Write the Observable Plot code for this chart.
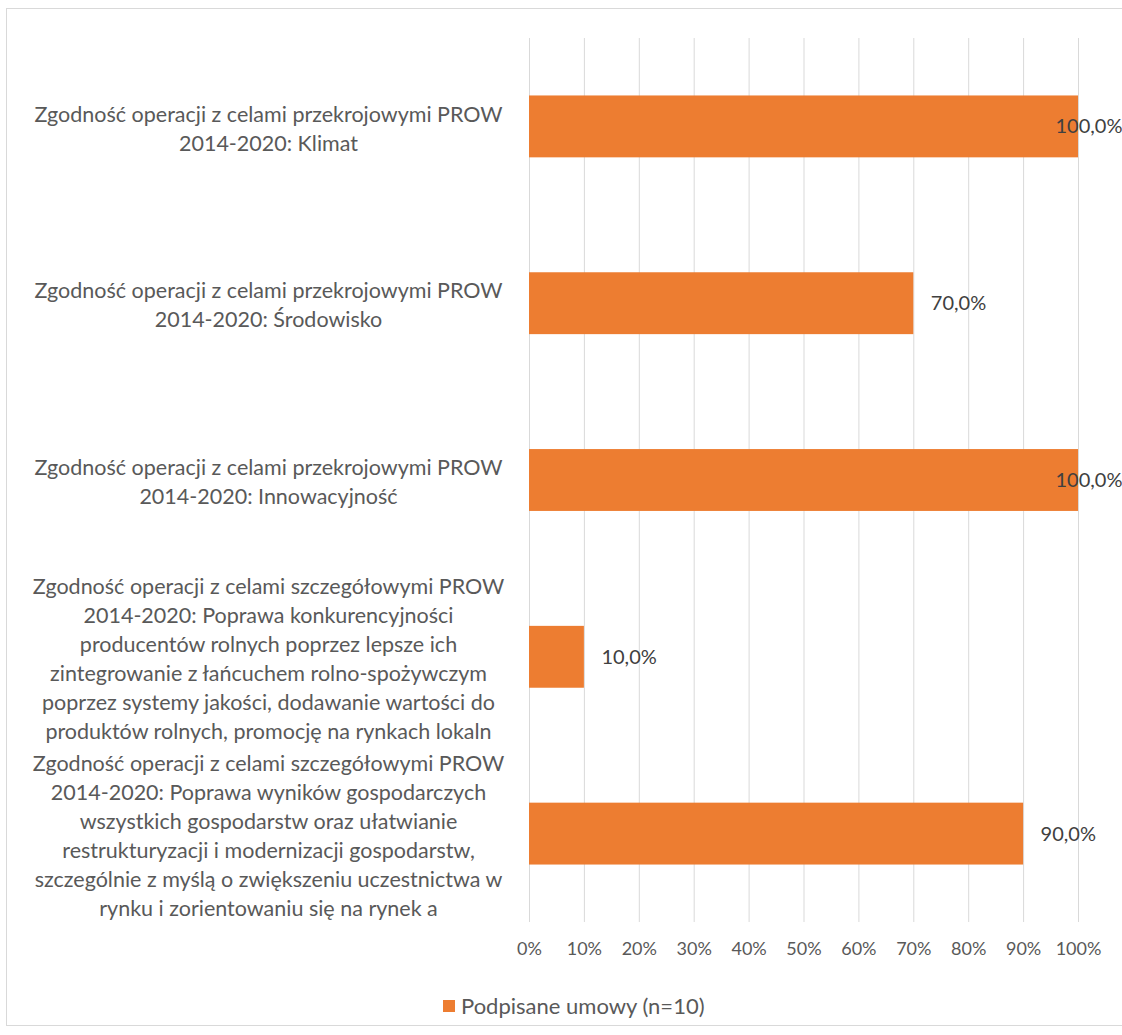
<!DOCTYPE html>
<html>
<head>
<meta charset="utf-8">
<script src="https://cdn.jsdelivr.net/npm/d3@7"></script>
<script src="https://cdn.jsdelivr.net/npm/@observablehq/plot@0.6"></script>
<style>
  html, body { margin: 0; padding: 0; background: #fff; }
  body { width: 1122px; height: 1035px; position: relative; overflow: hidden; font-family: Lato, "Open Sans", sans-serif; }
  #frame { position: absolute; left: 6px; top: 8px; width: 1140px; height: 1018px; border: 1px solid #d9d9d9; box-sizing: border-box; }
  #chart { position: absolute; left: 0; top: 0; }
  #legend { position: absolute; left: 443px; top: 992px; display: flex; align-items: center; font-size: 22px; color: #595959; }
  #legend .sw { width: 12px; height: 12px; background: #ED7D31; margin-right: 6px; }
</style>
</head>
<body>
<div id="frame"></div>
<div id="chart"></div>
<div id="legend"><span class="sw"></span><span>Podpisane umowy (n=10)</span></div>
<script>
const categories = [
  "Zgodność operacji z celami przekrojowymi PROW\n2014-2020: Klimat",
  "Zgodność operacji z celami przekrojowymi PROW\n2014-2020: Środowisko",
  "Zgodność operacji z celami przekrojowymi PROW\n2014-2020: Innowacyjność",
  "Zgodność operacji z celami szczegółowymi PROW\n2014-2020: Poprawa konkurencyjności\nproducentów rolnych poprzez lepsze ich\nzintegrowanie z łańcuchem rolno-spożywczym\npoprzez systemy jakości, dodawanie wartości do\nproduktów rolnych, promocję na rynkach lokaln",
  "Zgodność operacji z celami szczegółowymi PROW\n2014-2020: Poprawa wyników gospodarczych\nwszystkich gospodarstw oraz ułatwianie\nrestrukturyzacji i modernizacji gospodarstw,\nszczególnie z myślą o zwiększeniu uczestnictwa w\nrynku i zorientowaniu się na rynek a"
];
const values = [1.0, 0.7, 1.0, 0.1, 0.9];
const xTicks = [0, 0.1, 0.2, 0.3, 0.4, 0.5, 0.6, 0.7, 0.8, 0.9, 1.0];
const seriesName = "Podpisane umowy (n=10)";

const data = categories.map((c, i) => ({category: c, value: values[i]}));
const fmtLabel = v => (v * 100).toFixed(1).replace(".", ",") + "%";

const chart = Plot.plot({
  width: 1122,
  height: 975,
  marginLeft: 529,
  marginRight: 44,
  marginTop: 38,
  marginBottom: 53,
  style: {fontFamily: "Lato, 'Open Sans', sans-serif", background: "transparent"},
  x: {domain: [0, 1], ticks: xTicks},
  y: {domain: categories, paddingInner: 0.65, paddingOuter: 0.325, round: false},
  marks: [
    Plot.gridX(xTicks, {stroke: "#d9d9d9", strokeOpacity: 1, strokeWidth: 1}),
    Plot.barX(data, {x: "value", y: "category", fill: "#ED7D31"}),
    Plot.text(data.filter(d => d.value < 1), {x: "value", y: "category", text: d => fmtLabel(d.value), textAnchor: "start", dx: 17, fontSize: 20, fill: "#404040"}),
    Plot.text(data.filter(d => d.value >= 1), {x: "value", y: "category", text: d => fmtLabel(d.value), textAnchor: "start", dx: -23, fontSize: 20, fill: "#404040"}),
    Plot.axisX(xTicks, {tickSize: 0, tickPadding: 20, tickFormat: d => Math.round(d * 100) + "%", fontSize: 18, fill: "#595959", label: null}),
    Plot.axisY({tickSize: 0, tickPadding: 261, textAnchor: "middle", fontSize: 21.5, lineHeight: 1.35, fill: "#595959", label: null, lineWidth: 100})
  ]
});
document.getElementById("chart").appendChild(chart);
</script>
</body>
</html>
